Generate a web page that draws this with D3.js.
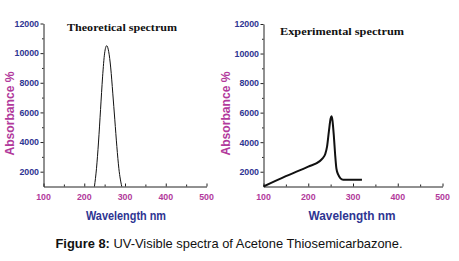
<!DOCTYPE html>
<html>
<head>
<meta charset="utf-8">
<script src="https://cdn.jsdelivr.net/npm/d3@7"></script>
<style>
  body { margin: 0; background: #fff; }
  svg { display: block; }
</style>
</head>
<body>
<svg id="drawing_region"></svg>
<script>
// wavelength (nm) and absorbance values
const theoWave = [225, 230, 235, 240, 245, 250, 255, 260, 265, 270, 275, 280, 285, 292];
const theoAbs  = [1000, 2200, 4000, 6200, 8400, 10000, 10500, 10100, 9000, 7300, 5500, 3700, 2200, 1000];

const expWave = [100, 150, 200, 225, 232, 238, 242, 246, 250, 252, 254, 257, 260, 263, 267, 272, 278, 300, 320];
const expAbs  = [1000, 1700, 2350, 2700, 2900, 3200, 3700, 4700, 5600, 5750, 5500, 4500, 3200, 2200, 1800, 1550, 1450, 1450, 1450];

const xTicks = [100, 200, 300, 400, 500];
const yTicks = [2000, 4000, 6000, 8000, 10000, 12000];

const blue = '#2e3592';
const magenta = '#b23a9c';

const svg = d3.select('#drawing_region')
    .attr('width', 459)
    .attr('height', 261);

function drawPanel(cfg){
    const g = svg.append('g');

    const xscale = d3.scaleLinear().domain([100, 500]).range([cfg.left, cfg.right]);
    const yscale = d3.scaleLinear().domain([1000, 12000]).range([cfg.bottom, cfg.top]);

    // x axis: ticks point up into the plot
    const xaxis = d3.axisTop(xscale)
        .tickValues(xTicks)
        .tickSize(3)
        .tickFormat('')
        .tickSizeOuter(0);
    const xg = g.append('g')
        .attr('transform', `translate(0, ${cfg.bottom})`)
        .call(xaxis);
    xg.append('g').call(d3.axisTop(xscale).tickValues([150, 250, 350, 450]).tickSize(2).tickFormat('').tickSizeOuter(0))
        .select('.domain').remove();
    xg.selectAll('line, path').attr('stroke', '#222');

    g.selectAll('.xlab')
        .data(xTicks)
        .join('text')
        .attr('x', d => xscale(d))
        .attr('y', cfg.bottom + 13)
        .attr('text-anchor', 'middle')
        .attr('font-family', 'Liberation Sans, Arial, sans-serif')
        .attr('font-weight', 'bold')
        .attr('font-size', '8.8px')
        .attr('fill', magenta)
        .text(d => d);

    // y axis
    const yaxis = d3.axisLeft(yscale)
        .tickValues(yTicks)
        .tickSize(3)
        .tickSizeOuter(0)
        .tickFormat(d => d);
    const yg = g.append('g')
        .attr('transform', `translate(${cfg.left}, 0)`)
        .call(yaxis);
    yg.append('g').call(d3.axisLeft(yscale).tickValues([3000, 5000, 7000, 9000, 11000]).tickSize(1.5).tickFormat(''))
        .select('.domain').remove();
    yg.selectAll('line, path').attr('stroke', '#222');
    yg.selectAll('text')
        .attr('font-family', 'Liberation Sans, Arial, sans-serif')
        .attr('font-weight', 'bold')
        .attr('font-size', '8.8px')
        .attr('fill', blue)
        .attr('x', -4.5);

    // curve
    const line = d3.line()
        .x(d => xscale(d[0]))
        .y(d => yscale(d[1]))
        .curve(d3.curveMonotoneX);
    g.append('path')
        .attr('d', line(d3.zip(cfg.wave, cfg.abs)))
        .attr('fill', 'none')
        .attr('stroke', '#111')
        .attr('stroke-width', cfg.lw);

    // title
    g.append('text')
        .attr('x', cfg.titleX)
        .attr('y', cfg.titleY)
        .attr('text-anchor', 'middle')
        .attr('font-family', 'Liberation Serif, Times New Roman, serif')
        .attr('font-weight', 'bold')
        .attr('font-size', '11px')
        .attr('textLength', cfg.titleW)
        .attr('lengthAdjust', 'spacingAndGlyphs')
        .attr('fill', '#111')
        .text(cfg.title);

    // axis titles
    g.append('text')
        .attr('transform', `translate(${cfg.ylabX}, 113.5) rotate(-90)`)
        .attr('text-anchor', 'middle')
        .attr('font-family', 'Liberation Sans, Arial, sans-serif')
        .attr('font-weight', 'bold')
        .attr('font-size', '13px')
        .attr('textLength', 84)
        .attr('lengthAdjust', 'spacingAndGlyphs')
        .attr('fill', magenta)
        .text('Absorbance %');

    g.append('text')
        .attr('x', cfg.xlabX)
        .attr('y', 220)
        .attr('text-anchor', 'middle')
        .attr('font-family', 'Liberation Sans, Arial, sans-serif')
        .attr('font-weight', 'bold')
        .attr('font-size', '13.5px')
        .attr('textLength', cfg.xlabW)
        .attr('lengthAdjust', 'spacingAndGlyphs')
        .attr('fill', blue)
        .text('Wavelength nm');
}

drawPanel({left: 43.5, right: 206.5, top: 23.5, bottom: 186.5,
    wave: theoWave, abs: theoAbs, lw: 1,
    title: 'Theoretical spectrum', titleX: 122, titleY: 30.5, titleW: 110,
    ylabX: 13.5, xlabX: 126, xlabW: 80});

drawPanel({left: 263.5, right: 442.5, top: 24, bottom: 186.5,
    wave: expWave, abs: expAbs, lw: 2,
    title: 'Experimental spectrum', titleX: 342, titleY: 34.5, titleW: 124,
    ylabX: 230, xlabX: 352, xlabW: 87});

// caption
const cap = svg.append('text')
    .attr('x', 229)
    .attr('y', 247.5)
    .attr('text-anchor', 'middle')
    .attr('font-family', 'Liberation Sans, Arial, sans-serif')
    .attr('font-size', '12.9px')
    .attr('fill', '#111');
cap.append('tspan').attr('font-weight', 'bold').text('Figure 8:');
cap.append('tspan').text(' UV-Visible spectra of Acetone Thiosemicarbazone.');
</script>
</body>
</html>
